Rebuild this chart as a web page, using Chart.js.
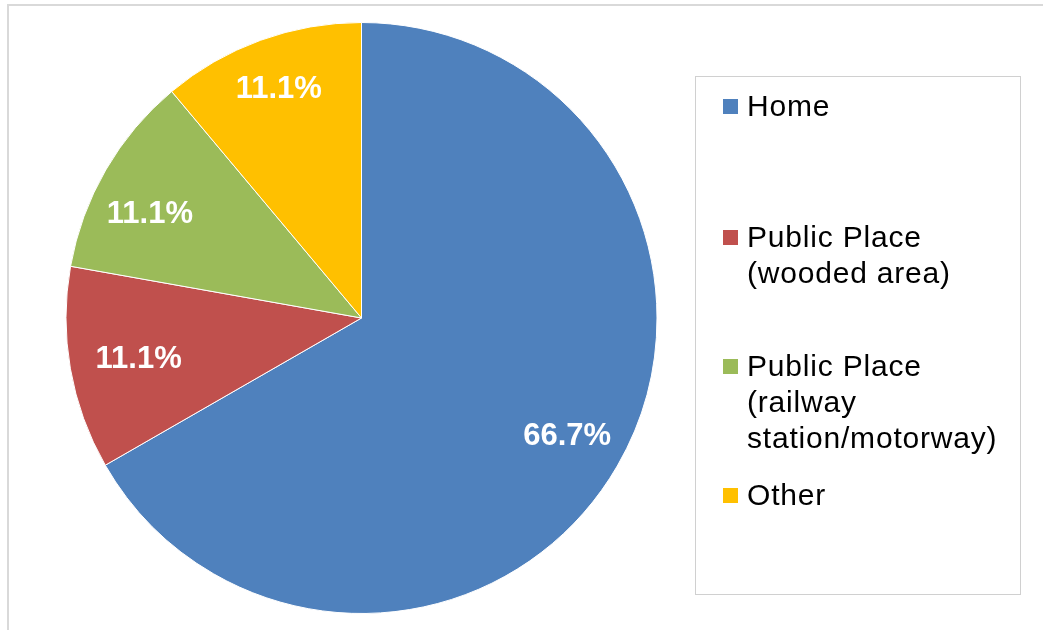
<!DOCTYPE html>
<html>
<head>
<meta charset="utf-8">
<script src="https://cdn.jsdelivr.net/npm/chart.js@4"></script>
<style>
  body { margin: 0; background: #fff; font-family: "Liberation Sans", Arial, sans-serif; }
  #wrap { position: relative; width: 1043px; height: 630px; overflow: hidden; }
  #marco { position: absolute; left: 7px; top: 4px; width: 1100px; height: 700px;
           border-left: 2px solid #d9d9d9; border-top: 2px solid #d9d9d9; }
  #leyenda { position: absolute; left: 695px; top: 76px; width: 324px; height: 517px;
             border: 1.5px solid #d0d0d0; }
  .item { position: absolute; left: 51px; font-size: 30px; line-height: 36px; color: #000;
          letter-spacing: 0.8px; white-space: nowrap; }
  .cuadro { position: absolute; left: -24px; top: 11px; width: 15px; height: 15px; }
  canvas { position: absolute; left: 0; top: 0; }
</style>
</head>
<body>
<div id="wrap">
  <div id="marco"></div>
  <canvas id="miGrafico" width="1043" height="630"></canvas>
  <div id="leyenda"></div>
</div>
<script>
// datos del gráfico
const categorias = [
  ['Home'],
  ['Public Place', '(wooded area)'],
  ['Public Place', '(railway', 'station/motorway)'],
  ['Other']
];
const porcentajes = [66.7, 11.1, 11.1, 11.1];
const colores = ['#4f81bd', '#c0504d', '#9bbb59', '#ffc000'];

// posición vertical de cada entrada dentro de la leyenda
const topLeyenda = [11, 142, 271, 400];
// pequeño ajuste (px) de cada etiqueta respecto al centro de su porción
const ajusteEtiqueta = [[1, 0], [10, 1], [-7, 15], [-2, -6]];

// leyenda a la derecha
const leyenda = document.getElementById('leyenda');
categorias.forEach((lineas, i) => {
  const item = document.createElement('div');
  item.className = 'item';
  item.style.top = topLeyenda[i] + 'px';
  item.innerHTML = `<span class="cuadro" style="background:${colores[i]}"></span>` + lineas.join('<br>');
  leyenda.appendChild(item);
});

// etiquetas de porcentaje dentro de cada porción
const etiquetasPlugin = {
  id: 'etiquetas',
  afterDatasetsDraw(chart) {
    const ctx = chart.ctx;
    const meta = chart.getDatasetMeta(0);
    ctx.save();
    ctx.fillStyle = '#fff';
    ctx.font = 'bold 31px "Liberation Sans", Arial, sans-serif';
    ctx.textAlign = 'center';
    ctx.textBaseline = 'middle';
    meta.data.forEach((arco, i) => {
      const { x, y, startAngle, endAngle, outerRadius } = arco.getProps(['x', 'y', 'startAngle', 'endAngle', 'outerRadius'], true);
      const medio = (startAngle + endAngle) / 2;
      const r = outerRadius * 0.8;
      const [dx, dy] = ajusteEtiqueta[i];
      ctx.fillText(porcentajes[i].toFixed(1) + '%', x + Math.cos(medio) * r + dx, y + Math.sin(medio) * r + dy);
    });
    ctx.restore();
  }
};

const ctx = document.getElementById('miGrafico').getContext('2d');
new Chart(ctx, {
  type: 'pie',
  data: {
    labels: categorias.map(l => l.join(' ')),
    datasets: [{
      data: porcentajes,
      backgroundColor: colores,
      borderColor: '#ffffff',
      borderWidth: 1,
      hoverOffset: 0
    }]
  },
  options: {
    responsive: false,
    animation: false,
    layout: { padding: { left: 65, right: 385, top: 22, bottom: 16 } },
    plugins: {
      legend: { display: false },
      tooltip: { enabled: false }
    }
  },
  plugins: [etiquetasPlugin]
});
</script>
</body>
</html>
